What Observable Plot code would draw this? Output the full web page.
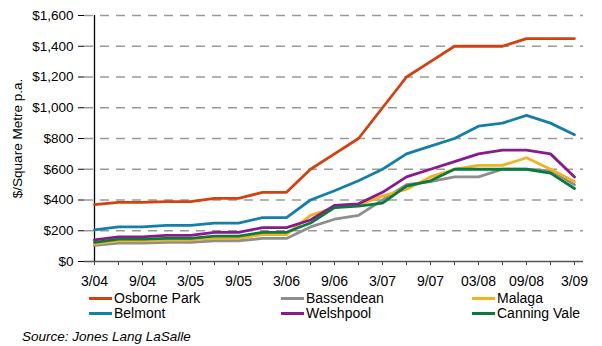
<!DOCTYPE html>
<html>
<head>
<meta charset="utf-8">
<script src="https://cdn.jsdelivr.net/npm/d3@7"></script>
<script src="https://cdn.jsdelivr.net/npm/@observablehq/plot@0.6"></script>
<style>
  body { margin: 0; background: #fff; font-family: "Liberation Sans", Arial, sans-serif; }
  #chart { position: relative; width: 602px; height: 346px; overflow: hidden; }
  #chart svg { position: absolute; left: 0; top: 0; }
  .item { position: absolute; display: flex; align-items: center; height: 16px; font-size: 14px; color: #000; white-space: nowrap; }
  .swatch { width: 23px; height: 3px; margin-right: 2px; }
  .source { position: absolute; left: 22px; top: 329px; font-size: 13.5px; font-style: italic; color: #000; }
</style>
</head>
<body>
<div id="chart"></div>
<script>
// Quarterly periods, March 2004 to March 2009
const quarters = ["3/04","6/04","9/04","12/04","3/05","6/05","9/05","12/05","3/06","6/06","9/06","12/06",
                  "3/07","6/07","9/07","12/07","03/08","06/08","09/08","12/08","3/09"];
const yTicks = [0, 200, 400, 600, 800, 1000, 1200, 1400, 1600];

// Rents, $ per square metre per annum
const osbornePark = [370,385,385,390,390,410,410,450,450,600,700,800,1000,1200,1300,1400,1400,1400,1450,1450,1450];
const bassendean  = [105,120,120,125,125,135,135,150,150,225,275,300,400,500,520,550,550,600,600,590,500];
const malaga      = [115,135,135,140,140,150,150,175,175,300,350,370,425,470,550,600,625,625,675,600,520];
const belmont     = [205,225,225,235,235,250,250,285,285,400,460,525,600,700,750,800,880,900,950,900,825];
const welshpool   = [140,160,160,170,170,190,190,220,220,270,365,375,450,550,600,650,700,725,725,700,550];
const canningVale = [125,145,145,150,150,165,165,190,190,250,350,360,380,490,525,600,600,600,600,575,475];

const seriesNames  = ["Osborne Park", "Bassendean", "Malaga", "Belmont", "Welshpool", "Canning Vale"];
const seriesValues = [osbornePark, bassendean, malaga, belmont, welshpool, canningVale];
const seriesColors = ["#d4410f", "#8e8e8e", "#f0b21e", "#1480a8", "#8b188f", "#0b7a3e"];

const rows = seriesNames.flatMap((name, s) =>
  seriesValues[s].map((value, i) => ({series: name, quarter: quarters[i], value}))
);

const money = d => "$" + d3.format(",")(d);

const chart = Plot.plot({
  width: 602,
  height: 290,
  marginTop: 15,
  marginBottom: 29,
  marginLeft: 84,
  marginRight: 19,
  style: {fontFamily: "Liberation Sans, Arial, sans-serif", fontSize: "14px", color: "#000", background: "#fff"},
  x: {type: "point", domain: quarters, padding: 0},
  y: {domain: [0, 1600]},
  color: {domain: seriesNames, range: seriesColors},
  marks: [
    Plot.gridY(yTicks.filter(d => d > 0), {stroke: "#9a9a9a", strokeOpacity: 1, strokeWidth: 1.3, strokeDasharray: "9,7"}),
    Plot.axisY(yTicks, {
      tickFormat: money, tickSize: 6, tickPadding: 5, stroke: "#000", fontSize: 13.5,
      label: "$/Square Metre p.a.", labelAnchor: "center", labelOffset: 72, labelArrow: "none"
    }),
    Plot.axisX({
      tickFormat: (d, i) => (i % 2 === 0 ? d : ""), tickSize: 4, tickPadding: 11,
      stroke: "#444", label: null
    }),
    Plot.ruleY([0], {stroke: "#555", strokeWidth: 1.3}),
    Plot.ruleX([quarters[0]], {stroke: "#000", strokeWidth: 1.3}),
    Plot.line(rows, {x: "quarter", y: "value", z: "series", stroke: "series", strokeWidth: 2.8, strokeLinejoin: "round"})
  ]
});

const root = document.getElementById("chart");
root.appendChild(chart);

// Legend below the plot: three columns, filled row by row
const colX = [89, 281, 472];
const rowY = [290, 305];
seriesNames.forEach((name, s) => {
  const item = document.createElement("div");
  item.className = "item";
  item.style.left = colX[s % 3] + "px";
  item.style.top = rowY[Math.floor(s / 3)] + "px";
  const sw = document.createElement("span");
  sw.className = "swatch";
  sw.style.background = seriesColors[s];
  const label = document.createElement("span");
  label.textContent = name;
  item.appendChild(sw);
  item.appendChild(label);
  root.appendChild(item);
});

const source = document.createElement("div");
source.className = "source";
source.textContent = "Source: Jones Lang LaSalle";
root.appendChild(source);
</script>
</body>
</html>
